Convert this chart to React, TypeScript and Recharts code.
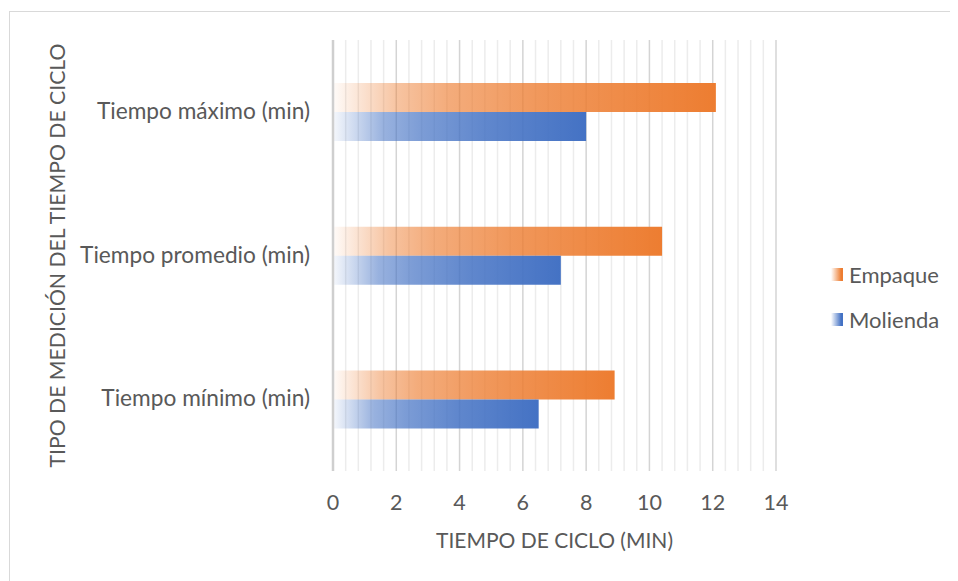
import React from "react";
import {
  BarChart,
  Bar,
  XAxis,
  YAxis,
  CartesianGrid,
  Legend,
  Label,
} from "recharts";

// Cycle-time measurements (minutes) per measurement type
const categories = ["Tiempo máximo (min)", "Tiempo promedio (min)", "Tiempo mínimo (min)"];
const empaque = [12.1, 10.4, 8.9];
const molienda = [8.0, 7.2, 6.5];

const majorTicks = [0, 2, 4, 6, 8, 10, 12, 14];
const minorTicks = [
  0.4, 0.8, 1.2, 1.6, 2.4, 2.8, 3.2, 3.6, 4.4, 4.8, 5.2, 5.6, 6.4, 6.8, 7.2, 7.6,
  8.4, 8.8, 9.2, 9.6, 10.4, 10.8, 11.2, 11.6, 12.4, 12.8, 13.2, 13.6,
];

const seriesNames: Record<string, string> = { empaque: "Empaque", molienda: "Molienda" };
const ORANGE = "#ED7D31";
const BLUE = "#4472C4";
const seriesColors: Record<string, string> = { empaque: ORANGE, molienda: BLUE };
const TEXT = "#595959";
const FONT = "Lato, 'Open Sans', sans-serif";

const data = categories.map((name, i) => ({
  name,
  empaque: empaque[i],
  molienda: molienda[i],
}));

const CategoryTick = (props: any) => {
  const { x, y, payload } = props;
  return (
    <text
      x={x}
      y={y + 7}
      textAnchor="end"
      fill={TEXT}
      fontSize={22.7}
      fontFamily={FONT}
    >
      {payload.value}
    </text>
  );
};

const ValueTick = (props: any) => {
  const { x, y, payload } = props;
  return (
    <text
      x={x}
      y={y + 39}
      textAnchor="middle"
      fill={TEXT}
      fontSize={21.5}
      fontFamily={FONT}
    >
      {payload.value}
    </text>
  );
};

const LegendContent = (props: any) => {
  const { payload } = props;
  return (
    <div style={{ display: "flex", flexDirection: "column" }}>
      {(payload || []).map((p: any) => {
        const c = seriesColors[p.dataKey] || p.color;
        return (
          <div
            key={p.value}
            style={{ display: "flex", alignItems: "center", height: 45 }}
          >
            <span
              style={{
                display: "inline-block",
                width: 12,
                height: 13,
                background: `linear-gradient(to right, rgba(255,255,255,0.1), ${c} 85%)`,
                marginRight: 6,
              }}
            />
            <span
              style={{
                color: TEXT,
                fontFamily: FONT,
                fontSize: 22,
                lineHeight: "22px",
              }}
            >
              {p.value}
            </span>
          </div>
        );
      })}
    </div>
  );
};

// minor gridlines placed through the value axis scale
const minorGridX = (props: any) => {
  const axis = props && props.xAxis;
  const scale = axis && axis.scale;
  if (typeof scale === "function") return minorTicks.map((v) => scale(v));
  if (scale && typeof scale.map === "function") return minorTicks.map((v) => scale.map(v));
  return [];
};

export default function App() {
  return (
    <div
      style={{
        position: "relative",
        width: 950,
        height: 573,
        overflow: "hidden",
        background: "#fff",
      }}
    >
      <div
        style={{
          position: "absolute",
          left: 1,
          top: 3,
          width: 2000,
          height: 2000,
          border: "1px solid #d9d9d9",
          pointerEvents: "none",
        }}
      />
      <BarChart
        width={950}
        height={573}
        data={data}
        layout="vertical"
        margin={{ top: 32, right: 52, bottom: 0, left: 0 }}
        barCategoryGap="30%"
        barGap={0}
      >
        <defs>
          <linearGradient id="gradEmpaque" x1="0" y1="0" x2="1" y2="0">
            <stop offset="0%" stopColor={ORANGE} stopOpacity={0.03} />
            <stop offset="17%" stopColor={ORANGE} stopOpacity={0.46} />
            <stop offset="30%" stopColor={ORANGE} stopOpacity={0.64} />
            <stop offset="55%" stopColor={ORANGE} stopOpacity={0.8} />
            <stop offset="100%" stopColor={ORANGE} stopOpacity={1} />
          </linearGradient>
          <linearGradient id="gradMolienda" x1="0" y1="0" x2="1" y2="0">
            <stop offset="0%" stopColor={BLUE} stopOpacity={0.05} />
            <stop offset="20%" stopColor={BLUE} stopOpacity={0.55} />
            <stop offset="35%" stopColor={BLUE} stopOpacity={0.7} />
            <stop offset="60%" stopColor={BLUE} stopOpacity={0.85} />
            <stop offset="100%" stopColor={BLUE} stopOpacity={1} />
          </linearGradient>
        </defs>
        <CartesianGrid
          horizontal={false}
          stroke="#ececec"
          strokeWidth={1.5}
          verticalCoordinatesGenerator={minorGridX}
        />
        <CartesianGrid
          horizontal={false}
          stroke="#d4d4d4"
          strokeWidth={1.5}
        />
        <XAxis
          type="number"
          domain={[0, 14]}
          ticks={majorTicks}
          axisLine={false}
          tickLine={false}
          tickSize={0}
          tickMargin={0}
          height={110}
          tick={<ValueTick />}
          interval={0}
        >
          <Label
            content={(p: any) => {
              const vb = p.viewBox || {};
              return (
                <text
                  x={vb.x + vb.width / 2}
                  y={vb.y + 77}
                  textAnchor="middle"
                  fill={TEXT}
                  fontSize={21}
                  fontFamily={FONT}
                >
                  TIEMPO DE CICLO (MIN)
                </text>
              );
            }}
          />
        </XAxis>
        <YAxis
          type="category"
          dataKey="name"
          width={325}
          axisLine={{ stroke: "#cfcfcf", strokeWidth: 2.5 }}
          tickLine={false}
          tickSize={0}
          tickMargin={23}
          tick={<CategoryTick />}
          interval={0}
        >
          <Label
            content={(p: any) => {
              const vb = p.viewBox || {};
              const cx = 57;
              const cy = vb.y + vb.height / 2;
              return (
                <text
                  x={cx}
                  y={cy}
                  transform={`rotate(-90 ${cx} ${cy})`}
                  textAnchor="middle"
                  fill={TEXT}
                  fontSize={21.2}
                  fontFamily={FONT}
                >
                  TIPO DE MEDICIÓN DEL TIEMPO DE CICLO
                </text>
              );
            }}
          />
        </YAxis>
        <Legend
          layout="vertical"
          align="right"
          verticalAlign="middle"
          content={<LegendContent />}
          wrapperStyle={{ position: "absolute", left: 823, top: 244, width: 130 }}
        />
        <Bar
          dataKey="empaque"
          name={seriesNames.empaque}
          fill="url(#gradEmpaque)"
          isAnimationActive={false}
        />
        <Bar
          dataKey="molienda"
          name={seriesNames.molienda}
          fill="url(#gradMolienda)"
          isAnimationActive={false}
        />
      </BarChart>
    </div>
  );
}
